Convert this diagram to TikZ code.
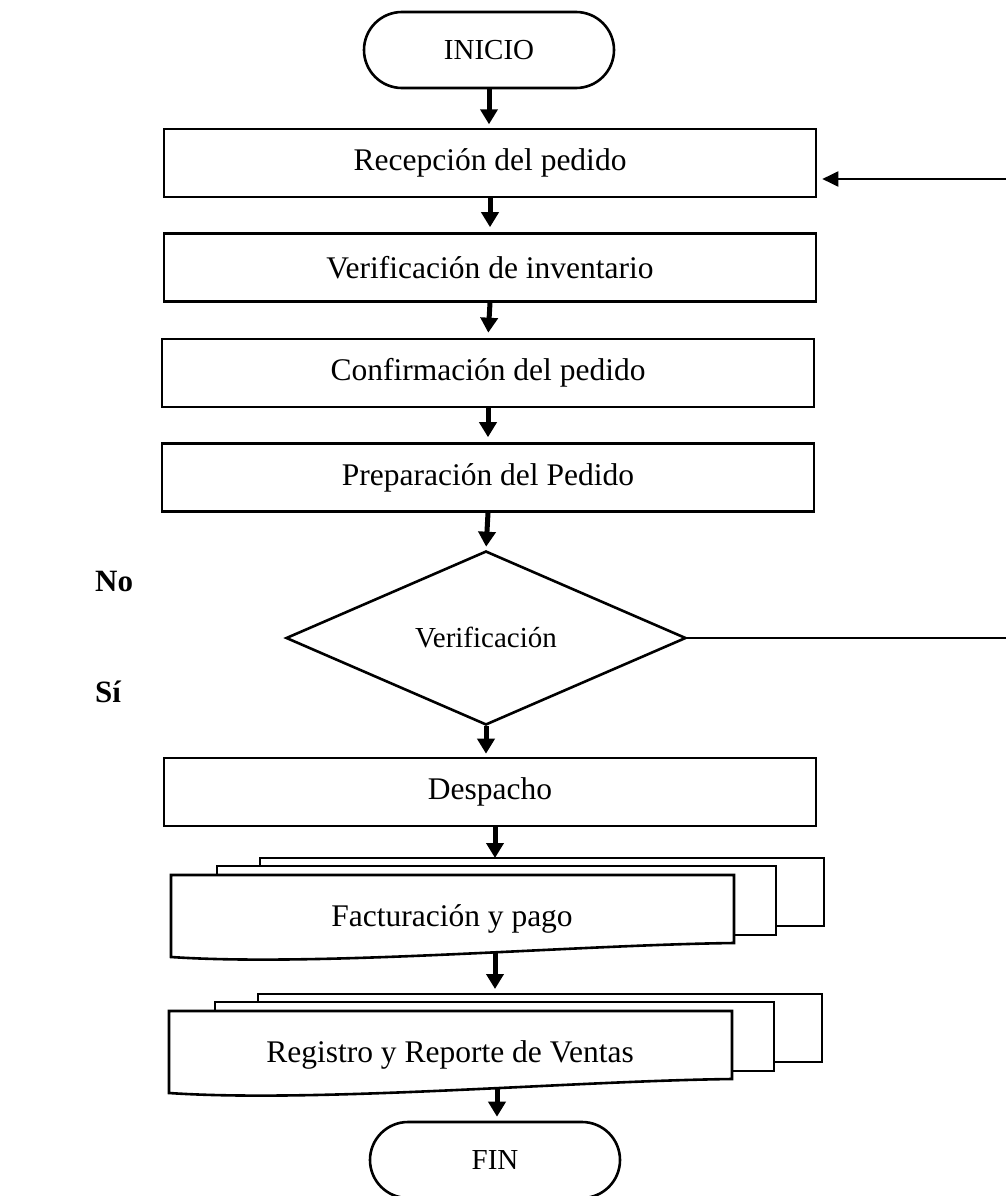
\documentclass[tikz,border=0pt]{standalone}
\usepackage{fontspec}
\setmainfont{Liberation Serif}
\usetikzlibrary{shapes.geometric, shapes.misc, arrows.meta, calc}

% pila de tres hojas (documento multiple); #1,#2 = esquina sup. izq. de la hoja frontal
\newcommand{\pila}[2]{%
  \draw[hoja] (#1+89,#2-17) rectangle (#1+653,#2+51);
  \draw[hoja] (#1+46,#2-9) rectangle (#1+605,#2+60);
  \draw[hoja] (#1,#2) -- (#1+563,#2) -- (#1+563,#2+68)
    .. controls (#1+400,#2+70) and (#1+150,#2+92) .. (#1,#2+82) -- cycle;
}

\begin{document}
\begin{tikzpicture}[x=1pt, y=-1pt]
        % ================= Estilos =================
        \tikzset{
            % caja de proceso
            caja/.style={rectangle, draw=black, line width=2.6pt, fill=white, minimum width=652pt, minimum height=68pt, inner sep=0pt, font=\fontsize{31.5}{36}\selectfont},
            % inicio / fin
            term/.style={rounded rectangle, draw=black, line width=2.6pt, minimum width=250pt, minimum height=76pt, inner sep=0pt, font=\fontsize{29}{34}\selectfont},
            % rombo de decision
            decision/.style={diamond, draw=black, line width=2.6pt, aspect=2.3, minimum width=400pt, minimum height=174pt, inner sep=0pt, font=\fontsize{29}{34}\selectfont},
            hoja/.style={draw=black, fill=white, line width=2.6pt},
            texto/.style={font=\fontsize{31.5}{36}\selectfont},
            etiqueta/.style={anchor=west, inner sep=0pt, font=\fontsize{31}{34}\selectfont\bfseries},
            flecha/.style={line width=5pt, -{Triangle[width=17pt,length=15pt]}},
            linea/.style={line width=2pt},
            retorno/.style={line width=2pt, -{Triangle[width=15pt,length=16pt]}, shorten >=5pt}
        }

        \useasboundingbox (0,0) rectangle (1006,1196);

        % ================= Nodos principales =================
        \node[term] (inicio) at (489,50) {INICIO};
        \node[caja] (rec) at (490,163) {Recepción del pedido};
        \node[caja] (inv) at (490,267.5) {Verificación de inventario};
        \node[caja] (conf) at (488,373) {Confirmación del pedido};
        \node[caja] (prep) at (488,477.5) {Preparación del Pedido};
        \node[decision] (verif) at (486,638) {Verificación};
        \node[caja] (desp) at (490,792) {Despacho};

        % pilas de documentos
        \pila{171}{875}
        \node[texto] (fact) at (452,919) {Facturación y pago};
        \pila{169}{1011}
        \node[texto] (reg) at (450,1055) {Registro y Reporte de Ventas};

        \node[term] (fin) at (495,1160) {FIN};

        % etiquetas sueltas
        \node[etiqueta] (no) at (95,581) {No};
        \node[etiqueta] (si) at (95,692) {Sí};

        % ================= Coordenadas auxiliares =================
        \coordinate (fact_top) at (495,858);
        \coordinate (fact_bot) at (495,953);
        \coordinate (reg_top) at (495,989);
        \coordinate (reg_bot) at (497,1088);
        \coordinate (ret_der) at (1006,179);

        % ================= Flechas =================
        \draw[flecha] (inicio.south) -- ++(0,35);
        \draw[flecha, shorten >=5pt] (rec.south) -- (inv.north);
        \draw[flecha, shorten >=5pt] (inv.south) -- (conf.north);
        \draw[flecha, shorten >=5pt] (conf.south) -- (prep.north);
        \draw[flecha, shorten >=3pt] (prep.south) -- (verif.north);
        \draw[flecha, shorten >=3pt] (verif.south) -- (verif.south |- desp.north);
        \draw[flecha] (desp.south -| fact_top) -- (fact_top);
        \draw[flecha] (fact_bot) -- (reg_top);
        \draw[flecha, shorten >=4pt] (reg_bot) -- (reg_bot |- fin.north);

        % retorno "No"
        \draw[linea] (verif.east) -- (verif.east -| ret_der);
        \draw[retorno] (ret_der) -- (ret_der -| rec.east);

\end{tikzpicture}
\end{document}
